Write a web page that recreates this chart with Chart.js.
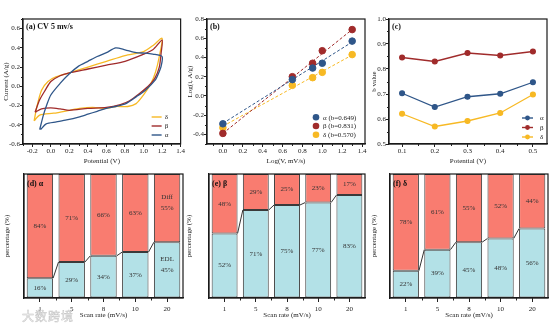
<!DOCTYPE html>
<html>
<head>
<meta charset="utf-8">
<script src="https://cdn.jsdelivr.net/npm/chart.js@4.4.1/dist/chart.umd.min.js"></script>
<style>
  body { margin: 0; width: 554px; height: 327px; background: #fff; position: relative; overflow: hidden; }
  canvas { position: absolute; }
  .mark { position: absolute; left: 22px; top: 307px; font: 12px "Noto Sans CJK SC"; color: #fff;
          -webkit-text-stroke: 0.5px #c4c4c4; letter-spacing: 1px; }
</style>
</head>
<body>
<canvas id="cvA" width="185" height="165" style="left:0;top:0"></canvas>
<canvas id="logB" width="185" height="165" style="left:185px;top:0"></canvas>
<canvas id="bC" width="184" height="165" style="left:370px;top:0"></canvas>
<canvas id="pD" width="185" height="164" style="left:0;top:163px"></canvas>
<canvas id="pE" width="185" height="164" style="left:185px;top:163px"></canvas>
<canvas id="pF" width="184" height="164" style="left:370px;top:163px"></canvas>
<div class="mark">大数跨境</div>
<script>
// ---- data ----
const species = ['α', 'β', 'δ'];
const colAlpha = '#2F5689';
const colBeta = '#A02B2B';
const colDelta = '#F7B924';

// (a) CV at 5 mV/s, each loop traced along the upper branch then back
const cvAlphaV = [-0.12, -0.08, -0.05, 0.0, 0.1, 0.2, 0.3, 0.4, 0.5, 0.6, 0.7, 0.8, 0.92, 1.02, 1.1, 1.2,
                  1.19, 1.16, 1.13, 1.02, 0.92, 0.81, 0.7, 0.6, 0.5, 0.4, 0.3, 0.17, 0.06, -0.05, -0.11];
const cvAlphaI = [-0.45, -0.3, -0.21, -0.09, 0.03, 0.13, 0.21, 0.26, 0.31, 0.35, 0.40, 0.38, 0.35, 0.345, 0.335, 0.31,
                  0.21, 0.13, 0.07, -0.04, -0.11, -0.18, -0.21, -0.23, -0.26, -0.29, -0.32, -0.35, -0.37, -0.39, -0.45];
const cvBetaV = [-0.17, -0.12, -0.06, 0.0, 0.1, 0.2, 0.4, 0.6, 0.8, 0.99, 1.1, 1.2,
                 1.19, 1.17, 1.12, 1.05, 0.95, 0.85, 0.75, 0.6, 0.4, 0.2, 0.1, 0.0, -0.1, -0.17];
const cvBetaI = [-0.27, -0.14, -0.04, 0.05, 0.11, 0.14, 0.18, 0.22, 0.26, 0.33, 0.38, 0.48,
                 0.35, 0.2, 0.08, 0.0, -0.08, -0.15, -0.19, -0.22, -0.23, -0.25, -0.235, -0.225, -0.235, -0.27];
const cvDeltaV = [-0.18, -0.15, -0.1, -0.03, 0.06, 0.2, 0.4, 0.6, 0.8, 1.0, 1.11, 1.2,
                  1.17, 1.13, 1.08, 1.0, 0.92, 0.83, 0.7, 0.6, 0.45, 0.31, 0.2, 0.03, -0.12, -0.18];
const cvDeltaI = [-0.36, -0.21, -0.04, 0.05, 0.10, 0.14, 0.20, 0.26, 0.32, 0.36, 0.43, 0.50,
                  0.31, 0.15, 0.03, -0.09, -0.18, -0.21, -0.21, -0.23, -0.22, -0.23, -0.25, -0.28, -0.30, -0.36];

// (b) log(i) against log(v)
const logV = [0, 0.699, 0.903, 1.0, 1.301];
const logIAlpha = [-0.29, 0.17, 0.29, 0.34, 0.57];
const logIBeta = [-0.39, 0.20, 0.34, 0.47, 0.69];
const logIDelta = [-0.33, 0.11, 0.19, 0.245, 0.43];
const fitX = [0, 1.3];
const fitAlpha = [-0.285, 0.56];
const fitBeta = [-0.39, 0.69];
const fitDelta = [-0.315, 0.425];
const fitLabels = ['α (b=0.649)', 'β (b=0.831)', 'δ (b=0.570)'];

// (c) b value against potential
const potentials = [0.1, 0.2, 0.3, 0.4, 0.5];
const bAlpha = [0.703, 0.648, 0.689, 0.701, 0.747];
const bBeta = [0.846, 0.830, 0.864, 0.854, 0.870];
const bDelta = [0.621, 0.570, 0.592, 0.624, 0.698];

// (d)(e)(f) EDL / diffusion share
const scanRates = ['1', '5', '8', '10', '20'];
const edlAlpha = [16, 29, 34, 37, 45];
const diffAlpha = [84, 71, 66, 63, 55];
const edlBeta = [52, 71, 75, 77, 83];
const diffBeta = [48, 29, 25, 23, 17];
const edlDelta = [22, 39, 45, 48, 56];
const diffDelta = [78, 61, 55, 52, 44];

// tick labels
const cvTicksX = [-0.2, 0, 0.2, 0.4, 0.6, 0.8, 1.0, 1.2, 1.4];
const cvTicksY = [-0.6, -0.4, -0.2, 0, 0.2, 0.4, 0.6];
const logTicksX = [0, 0.2, 0.4, 0.6, 0.8, 1.0, 1.2, 1.4];
const logTicksY = [-0.4, -0.2, 0, 0.2, 0.4, 0.6, 0.8];
const bTicksX = [0.1, 0.2, 0.3, 0.4, 0.5];
const bTicksY = [0.5, 0.6, 0.7, 0.8, 0.9, 1.0];

// ---- setup ----
const SERIF = '"Liberation Serif", "Times New Roman", serif';
Chart.defaults.font.family = SERIF;
Chart.defaults.font.size = 7;
Chart.defaults.color = '#222';
Chart.defaults.animation = false;
Chart.defaults.responsive = false;
Chart.defaults.plugins.legend.display = false;
Chart.defaults.plugins.tooltip.enabled = false;

const toXY = (xs, ys) => xs.map((x, i) => ({ x: x, y: ys[i] }));

// box round the plot plus panel tag
const framePlugin = {
  id: 'frame',
  afterDraw(chart, args, o) {
    const { ctx, chartArea: a } = chart;
    ctx.save();
    ctx.strokeStyle = '#1a1a1a';
    ctx.lineWidth = 1.2;
    ctx.strokeRect(a.left, a.top, a.right - a.left, a.bottom - a.top);
    if (o.tag) {
      ctx.font = 'bold 8px ' + SERIF;
      ctx.fillStyle = '#111';
      ctx.textBaseline = 'middle';
      ctx.fillText(o.tag, a.left + 3, a.top + o.tagDy);
    }
    ctx.restore();
  }
};

// short ticks half way between the labelled ones
const minorTicks = {
  id: 'minorTicks',
  afterDraw(chart, args, o) {
    if (!o.axes) return;
    const { ctx, chartArea: a } = chart;
    ctx.save();
    ctx.strokeStyle = '#222';
    ctx.lineWidth = 1;
    o.axes.forEach(key => {
      const s = chart.scales[key];
      const px = s.ticks.map((t, i) => s.getPixelForTick(i));
      const mids = [];
      for (let i = 0; i < px.length - 1; i++) mids.push((px[i] + px[i + 1]) / 2);
      if (o.ends && px.length > 1) {
        const step = px[1] - px[0];
        mids.push(px[0] - step / 2, px[px.length - 1] + step / 2);
      }
      mids.forEach(p => {
        ctx.beginPath();
        if (key === 'x') {
          if (p < a.left - 0.5 || p > a.right + 0.5) return;
          ctx.moveTo(Math.round(p) + 0.5, a.bottom);
          ctx.lineTo(Math.round(p) + 0.5, a.bottom + o.len);
        } else {
          if (p < a.top - 0.5 || p > a.bottom + 0.5) return;
          ctx.moveTo(a.left, Math.round(p) + 0.5);
          ctx.lineTo(a.left - o.len, Math.round(p) + 0.5);
        }
        ctx.stroke();
      });
    });
    ctx.restore();
  }
};

// small legend in the lower right corner of the plot
const cornerLegend = {
  id: 'cornerLegend',
  afterDraw(chart, args, o) {
    if (!o.rows) return;
    const { ctx, chartArea: a } = chart;
    ctx.save();
    ctx.font = '7px ' + SERIF;
    ctx.textBaseline = 'middle';
    o.rows.forEach((r, k) => {
      const c = chart.data.datasets[r.ds].borderColor;
      const y = a.bottom - o.bottom - (o.rows.length - 1 - k) * o.gap;
      const x = a.right - o.right;
      ctx.strokeStyle = c;
      ctx.fillStyle = c;
      ctx.lineWidth = 1.4;
      if (o.line) {
        ctx.beginPath(); ctx.moveTo(x, y); ctx.lineTo(x + o.line, y); ctx.stroke();
      }
      if (o.dot) {
        ctx.beginPath(); ctx.arc(x + (o.line || 0) / 2, y, o.dot, 0, Math.PI * 2); ctx.fill();
      }
      ctx.fillStyle = '#222';
      ctx.fillText(r.text, x + o.textDx, y + 0.5);
    });
    ctx.restore();
  }
};

// percentages inside the stacked bars and the step lines between them
const barText = {
  id: 'barText',
  afterDatasetsDraw(chart, args, o) {
    if (!o.on) return;
    const { ctx } = chart;
    ctx.save();
    const edl = chart.getDatasetMeta(0).data;
    ctx.strokeStyle = '#333';
    ctx.lineWidth = 1;
    for (let i = 0; i < edl.length - 1; i++) {
      const p = edl[i], q = edl[i + 1];
      ctx.beginPath();
      ctx.moveTo(p.x + p.width / 2, p.y);
      ctx.lineTo(q.x - q.width / 2, q.y);
      ctx.stroke();
    }
    ctx.font = '7px ' + SERIF;
    ctx.fillStyle = '#333';
    ctx.textAlign = 'center';
    ctx.textBaseline = 'middle';
    chart.data.datasets.forEach((ds, d) => {
      chart.getDatasetMeta(d).data.forEach((bar, i) => {
        const cy = (bar.y + bar.base) / 2;
        ctx.fillText(ds.data[i] + '%', bar.x, cy);
        if (ds.tags && ds.tags[i]) ctx.fillText(ds.tags[i], bar.x, cy - 11);
      });
    });
    ctx.restore();
  }
};

function linAxis(min, max, ticks, title, size, isX, titlePad) {
  return {
    type: 'linear', min: min, max: max,
    afterFit: s => { if (isX) s.height = size; else s.width = size; },
    afterBuildTicks: s => { s.ticks = ticks.map(v => ({ value: v })); },
    ticks: { padding: 0, autoSkip: false, maxRotation: 0, callback: v => Number(v).toFixed(1) },
    grid: { drawOnChartArea: false, tickLength: 3, tickColor: '#222', tickWidth: 1 },
    border: { color: '#1a1a1a', width: 1.2 },
    title: { display: true, text: title, padding: isX ? 0 : { top: titlePad, bottom: 0 }, font: { size: 7 } }
  };
}

// (a)
new Chart(document.getElementById('cvA'), {
  type: 'scatter',
  data: {
    datasets: [
      { label: 'α', data: toXY(cvAlphaV, cvAlphaI), borderColor: colAlpha },
      { label: 'β', data: toXY(cvBetaV, cvBetaI), borderColor: colBeta },
      { label: 'δ', data: toXY(cvDeltaV, cvDeltaI), borderColor: colDelta }
    ].map(d => Object.assign(d, { showLine: true, pointRadius: 0, borderWidth: 1.3, tension: 0.25, fill: false }))
  },
  options: {
    layout: { padding: { top: 19, right: 3, left: 0, bottom: 0 } },
    scales: {
      x: linAxis(-0.3, 1.4, cvTicksX, 'Potential (V)', 21, true),
      y: linAxis(-0.6, 0.7, cvTicksY, 'Current (A/g)', 23, false, 2)
    },
    plugins: {
      frame: { tag: '(a) CV 5 mv/s', tagDy: 8 },
      minorTicks: { axes: ['x', 'y'], len: 2, ends: true },
      cornerLegend: { rows: [{ ds: 2, text: species[2] }, { ds: 1, text: species[1] }, { ds: 0, text: species[0] }],
                      bottom: 9, gap: 9, right: 29, line: 10, textDx: 13 }
    }
  },
  plugins: [framePlugin, minorTicks, cornerLegend]
});

// (b)
const ptSet = (label, ys, c) => ({ label: label, data: toXY(logV, ys), borderColor: c, backgroundColor: c,
                                  pointRadius: 3.3, showLine: false });
const fitSet = (ys, c) => ({ data: toXY(fitX, ys), borderColor: c, borderWidth: 1, borderDash: [3, 2],
                             pointRadius: 0, showLine: true, fill: false });
new Chart(document.getElementById('logB'), {
  type: 'scatter',
  data: {
    datasets: [
      ptSet(fitLabels[0], logIAlpha, colAlpha),
      ptSet(fitLabels[1], logIBeta, colBeta),
      ptSet(fitLabels[2], logIDelta, colDelta),
      fitSet(fitAlpha, colAlpha),
      fitSet(fitBeta, colBeta),
      fitSet(fitDelta, colDelta)
    ]
  },
  options: {
    layout: { padding: { top: 19, right: 4, left: 0, bottom: 0 } },
    scales: {
      x: linAxis(-0.16, 1.43, logTicksX, 'Log(V, mV/s)', 21, true),
      y: linAxis(-0.5, 0.8, logTicksY, 'Log(i, A/g)', 22, false, 1)
    },
    plugins: {
      frame: { tag: '(b)', tagDy: 8 },
      minorTicks: { axes: ['x', 'y'], len: 2, ends: true },
      cornerLegend: { rows: [{ ds: 0, text: fitLabels[0] }, { ds: 1, text: fitLabels[1] }, { ds: 2, text: fitLabels[2] }],
                      bottom: 9.3, gap: 8.7, right: 49, dot: 3.3, textDx: 7 }
    }
  },
  plugins: [framePlugin, minorTicks, cornerLegend]
});

// (c)
const bSet = (label, ys, c) => ({ label: label, data: toXY(potentials, ys), borderColor: c, backgroundColor: c,
                                 borderWidth: 1.3, pointRadius: 2.4, showLine: true, fill: false });
new Chart(document.getElementById('bC'), {
  type: 'scatter',
  data: { datasets: [bSet('α', bAlpha, colAlpha), bSet('β', bBeta, colBeta), bSet('δ', bDelta, colDelta)] },
  options: {
    layout: { padding: { top: 19, right: 7, left: 0, bottom: 0 } },
    scales: {
      x: linAxis(0.06, 0.543, bTicksX, 'Potential (V)', 21, true),
      y: linAxis(0.5, 1.0, bTicksY, 'b value', 19, false, 0)
    },
    plugins: {
      frame: { tag: '(c)', tagDy: 8 },
      minorTicks: { axes: ['x', 'y'], len: 2, ends: true },
      cornerLegend: { rows: [{ ds: 0, text: species[0] }, { ds: 1, text: species[1] }, { ds: 2, text: species[2] }],
                      bottom: 7, gap: 9.5, right: 25, line: 11, dot: 2.4, textDx: 18 }
    }
  },
  plugins: [framePlugin, minorTicks, cornerLegend]
});

// (d)(e)(f)
function sharePanel(id, edl, diff, tag, padRight, yWidth, titlePad, withTags) {
  const common = { borderColor: '#3a3a3a', borderWidth: 1, borderSkipped: false,
                   barPercentage: 0.83, categoryPercentage: 1 };
  new Chart(document.getElementById(id), {
    type: 'bar',
    data: {
      labels: scanRates,
      datasets: [
        Object.assign({ label: 'EDL', data: edl, backgroundColor: '#B3E1E7',
                        tags: withTags ? ['', '', '', '', 'EDL'] : null }, common),
        Object.assign({ label: 'Diff', data: diff, backgroundColor: '#F97C70',
                        tags: withTags ? ['', '', '', '', 'Diff'] : null }, common)
      ]
    },
    options: {
      layout: { padding: { top: 11, right: padRight, left: 0, bottom: 8 } },
      scales: {
        x: {
          type: 'category', stacked: true, offset: true,
          afterFit: s => { s.height = 21; },
          ticks: { padding: 3, maxRotation: 0, autoSkip: false },
          grid: { offset: false, drawOnChartArea: false, tickLength: 4, tickColor: '#222' },
          border: { color: '#1a1a1a', width: 1.2 },
          title: { display: true, text: 'Scan rate (mV/s)', padding: 0 }
        },
        y: {
          stacked: true, min: 0, max: 100,
          afterFit: s => { s.width = yWidth; },
          ticks: { display: false },
          grid: { drawOnChartArea: false, drawTicks: false },
          border: { color: '#1a1a1a', width: 1.2 },
          title: { display: true, text: 'percentage (%)', padding: { top: titlePad, bottom: 0 } }
        }
      },
      plugins: {
        frame: { tag: tag, tagDy: 10 },
        minorTicks: { axes: ['x'], len: 2.5, ends: false },
        barText: { on: true }
      }
    },
    plugins: [framePlugin, minorTicks, barText]
  });
}
sharePanel('pD', edlAlpha, diffAlpha, '(d) α', 2, 24, 3, true);
sharePanel('pE', edlBeta, diffBeta, '(e) β', 5, 24, 0, false);
sharePanel('pF', edlDelta, diffDelta, '(f) δ', 6, 20, 0, false);
</script>
</body>
</html>
